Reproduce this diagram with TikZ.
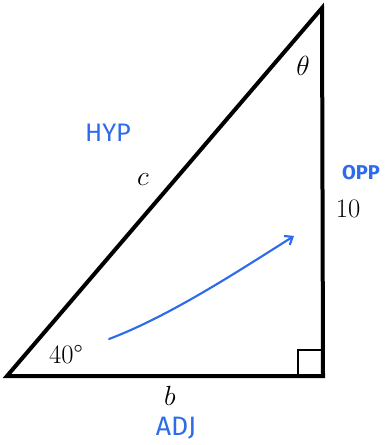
\documentclass[tikz,border=0pt]{standalone}
\usepackage{fontspec}
\newfontfamily\handfont{Fira Sans}
\usetikzlibrary{arrows.meta}
\definecolor{penblue}{HTML}{2E6BEA}
\begin{document}
\begin{tikzpicture}[x=0.75pt,y=-0.75pt,
  tri/.style={line width=3pt,line join=miter,black},
  lbl/.style={font=\fontsize{20}{22}\selectfont,inner sep=0pt},
  hand/.style={font=\handfont\fontsize{19}{21}\selectfont,text=penblue,inner sep=0pt}]
\useasboundingbox (0,0) rectangle (386,445);
\coordinate (A) at (7,376);
\coordinate (B) at (323,376);
\coordinate (C) at (322,8);
\draw[tri] (A) -- (B) -- (C) -- cycle;
\draw[line width=2.2pt] (298,376) -- (298,350) -- (323,350);
\node[lbl] (theta) at (303,66) {$\theta$};
\node[lbl] (c) at (143,180) {$c$};
\node[lbl] (ten) at (348,209) {10};
\node[lbl] (ang) at (66,355) {40°};
\node[lbl] (b) at (170,396) {$b$};
\node[hand] (hyp) at (108,133) {HYP};
\node[hand,font=\handfont\bfseries\fontsize{15}{17}\selectfont] (opp) at (361,173) {OPP};
\node[hand,font=\handfont\fontsize{20}{22}\selectfont] (adj) at (176,428) {ADJ};
\coordinate (s) at (109,339);
\coordinate (e) at (294,236);
\draw[penblue,line width=1.6pt,line cap=round,-{Straight Barb[length=5pt,width=8pt]}] (s) .. controls (170,316) and (240,270) .. (e);
\end{tikzpicture}
\end{document}
